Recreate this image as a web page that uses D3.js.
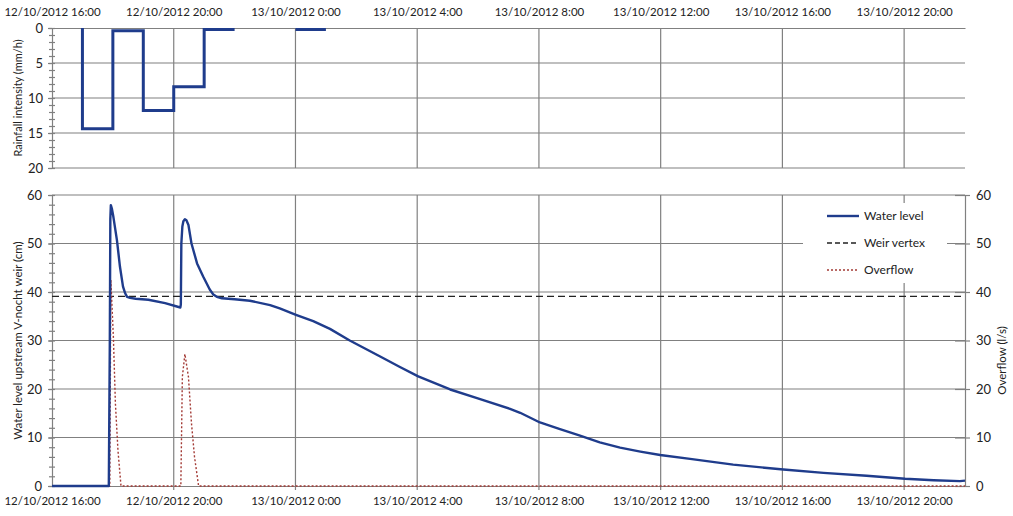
<!DOCTYPE html>
<html>
<head>
<meta charset="utf-8">
<script src="https://cdn.jsdelivr.net/npm/d3@7"></script>
<style>
	body { margin: 0; background: #fff; }
	text { font-family: Lato, "Open Sans", sans-serif; fill: #222; }
</style>
</head>
<body>
<svg id="canvas"></svg>
<script>
var width = 1013,
	height = 516;

// hourly rainfall, value for the hour ending at the time (null = no record)
var rainTime = ["12/10/2012 17:00", "12/10/2012 18:00", "12/10/2012 19:00", "12/10/2012 20:00",
	"12/10/2012 21:00", "12/10/2012 22:00", "12/10/2012 23:00", "13/10/2012 00:00", "13/10/2012 01:00"];
var rainValue = [0, 14.4, 0.4, 11.8, 8.4, 0.2, null, 0.2, 0.2];

// water level upstream of the weir (cm)
var levelTime = ["12/10/2012 16:00", "12/10/2012 17:52", "12/10/2012 17:54", "12/10/2012 17:55",
	"12/10/2012 17:56", "12/10/2012 17:58", "12/10/2012 18:01", "12/10/2012 18:08", "12/10/2012 18:14",
	"12/10/2012 18:20", "12/10/2012 18:24", "12/10/2012 18:28", "12/10/2012 18:34", "12/10/2012 18:45",
	"12/10/2012 19:10", "12/10/2012 19:43", "12/10/2012 20:13", "12/10/2012 20:14", "12/10/2012 20:15",
	"12/10/2012 20:17", "12/10/2012 20:19", "12/10/2012 20:22", "12/10/2012 20:25", "12/10/2012 20:29",
	"12/10/2012 20:35", "12/10/2012 20:46", "12/10/2012 20:58", "12/10/2012 21:11", "12/10/2012 21:18",
	"12/10/2012 21:25", "12/10/2012 21:35", "12/10/2012 22:00", "12/10/2012 22:30", "12/10/2012 23:10",
	"12/10/2012 23:29", "13/10/2012 00:01", "13/10/2012 00:35", "13/10/2012 01:08", "13/10/2012 01:47",
	"13/10/2012 02:47", "13/10/2012 03:25", "13/10/2012 04:02", "13/10/2012 05:05", "13/10/2012 05:58",
	"13/10/2012 07:03", "13/10/2012 07:23", "13/10/2012 08:02", "13/10/2012 08:40", "13/10/2012 09:21",
	"13/10/2012 10:00", "13/10/2012 10:40", "13/10/2012 11:20", "13/10/2012 11:59", "13/10/2012 12:58",
	"13/10/2012 14:23", "13/10/2012 16:02", "13/10/2012 17:21", "13/10/2012 18:46", "13/10/2012 20:02",
	"13/10/2012 20:58", "13/10/2012 21:50", "13/10/2012 22:00"];
var levelValue = [0, 0, 30, 55,
	57.9, 57.2, 55.5, 50.7, 45.2,
	41.1, 39.8, 39.0, 38.8, 38.6,
	38.4, 37.7, 36.8, 37.4, 50.0,
	53.5, 54.6, 55.0, 54.8, 53.8,
	50.0, 45.9, 43.2, 40.5, 39.5,
	39.0, 38.7, 38.5, 38.2, 37.3,
	36.6, 35.3, 34.0, 32.4, 30.0,
	26.7, 24.6, 22.6, 19.9, 18.1,
	15.9, 15.1, 13.1, 11.8, 10.4,
	9.0, 7.9, 7.1, 6.4, 5.6,
	4.4, 3.4, 2.7, 2.1, 1.5,
	1.2, 1.0, 1.1];

// overflow over the weir (l/s)
var flowTime = ["12/10/2012 16:00", "12/10/2012 17:54", "12/10/2012 17:56", "12/10/2012 18:01",
	"12/10/2012 18:05", "12/10/2012 18:10", "12/10/2012 18:16", "12/10/2012 20:14", "12/10/2012 20:17",
	"12/10/2012 20:22", "12/10/2012 20:29", "12/10/2012 20:35", "12/10/2012 20:41", "12/10/2012 20:49",
	"13/10/2012 22:00"];
var flowValue = [0, 0, 42.5, 30.8,
	17.0, 7.4, 0, 0, 22.5,
	27.2, 22.5, 12.9, 6.0, 0,
	0];

var weirVertex = 39.1;

var xTicks = ["12/10/2012 16:00", "12/10/2012 20:00", "13/10/2012 00:00", "13/10/2012 04:00",
	"13/10/2012 08:00", "13/10/2012 12:00", "13/10/2012 16:00", "13/10/2012 20:00"];
var rainTicks = [0, 5, 10, 15, 20];
var levelTicks = [0, 10, 20, 30, 40, 50, 60];

var parse = d3.timeParse("%d/%m/%Y %H:%M");
var fmt = d3.timeFormat("%d/%m/%Y %-H:%M");

var svg = d3.select("#canvas")
	.attr("width", width)
	.attr("height", height);

var left = 52, right = 965;
var rainTop = 28, rainBottom = 168;
var levelTop = 195, levelBottom = 486;
var gridColor = "#808080";
var blue = "#1f3c8c";

var x = d3.scaleTime()
	.domain([parse("12/10/2012 16:00"), parse("13/10/2012 22:00")])
	.range([left, right]);

var yRain = d3.scaleLinear()
	.domain([0, 20])
	.range([rainTop, rainBottom]);

var yLevel = d3.scaleLinear()
	.domain([0, 60])
	.range([levelBottom, levelTop]);

var yFlow = d3.scaleLinear()
	.domain([0, 60])
	.range([levelBottom, levelTop]);

var tickDates = xTicks.map(parse);

function styleAxis(g) {
	g.selectAll("path, line").attr("stroke", gridColor).attr("stroke-width", 1.2);
	g.select(".domain").attr("stroke-width", 1.2);
}

// ---------- rainfall panel ----------
var rainPanel = svg.append("g");

rainPanel.selectAll(".hgrid")
	.data(rainTicks.slice(1, -1))
	.enter()
	.append("line")
	.attr("x1", left).attr("x2", right)
	.attr("y1", function(d){ return yRain(d); })
	.attr("y2", function(d){ return yRain(d); })
	.attr("stroke", gridColor).attr("stroke-width", 1.2);

rainPanel.append("line")
	.attr("x1", left).attr("x2", right)
	.attr("y1", rainBottom).attr("y2", rainBottom)
	.attr("stroke", gridColor).attr("stroke-width", 1.2);

rainPanel.selectAll(".vgrid")
	.data(tickDates.slice(1))
	.enter()
	.append("line")
	.attr("x1", function(d){ return x(d); })
	.attr("x2", function(d){ return x(d); })
	.attr("y1", rainTop).attr("y2", rainBottom)
	.attr("stroke", gridColor).attr("stroke-width", 1.2);

var topAxis = rainPanel.append("g")
	.attr("transform", "translate(0," + rainTop + ")")
	.call(d3.axisTop(x).tickValues(tickDates).tickFormat(fmt).tickSize(0).tickPadding(12));
topAxis.selectAll("text").style("font-size", "11.5px");
styleAxis(topAxis);

var rainMinor = rainPanel.append("g")
	.attr("transform", "translate(" + (left + 3) + ",0)")
	.call(d3.axisLeft(yRain).ticks(20).tickFormat("").tickSize(6).tickSizeOuter(0));
styleAxis(rainMinor);
rainMinor.select(".domain").remove();

var rainAxis = rainPanel.append("g")
	.attr("transform", "translate(" + left + ",0)")
	.call(d3.axisLeft(yRain).tickValues(rainTicks).tickSize(4).tickPadding(5).tickSizeOuter(0));
rainAxis.selectAll("text").style("font-size", "13px");
styleAxis(rainAxis);

rainPanel.append("text")
	.attr("transform", "translate(22," + ((rainTop + rainBottom) / 2) + ") rotate(-90)")
	.attr("text-anchor", "middle")
	.style("font-size", "11px")
	.text("Rainfall intensity (mm/h)");

var rainData = rainTime.map(function(t, i){ return {t: parse(t), v: rainValue[i]}; });
rainPanel.append("path")
	.datum(rainData)
	.attr("fill", "none")
	.attr("stroke", blue)
	.attr("stroke-width", 3)
	.attr("d", d3.line()
		.defined(function(d){ return d.v !== null; })
		.curve(d3.curveStepBefore)
		.x(function(d){ return x(d.t); })
		.y(function(d){ return yRain(d.v); }));

// ---------- water level panel ----------
var levelPanel = svg.append("g");

levelPanel.selectAll(".hgrid")
	.data(levelTicks.slice(1))
	.enter()
	.append("line")
	.attr("x1", left).attr("x2", right)
	.attr("y1", function(d){ return yLevel(d); })
	.attr("y2", function(d){ return yLevel(d); })
	.attr("stroke", gridColor).attr("stroke-width", 1.2);

levelPanel.selectAll(".vgrid")
	.data(tickDates.slice(1))
	.enter()
	.append("line")
	.attr("x1", function(d){ return x(d); })
	.attr("x2", function(d){ return x(d); })
	.attr("y1", levelTop).attr("y2", levelBottom + 4)
	.attr("stroke", gridColor).attr("stroke-width", 1.2);

var bottomAxis = levelPanel.append("g")
	.attr("transform", "translate(0," + levelBottom + ")")
	.call(d3.axisBottom(x).tickValues(tickDates).tickFormat(fmt).tickSize(0).tickPadding(11));
bottomAxis.selectAll("text").style("font-size", "11.5px");
styleAxis(bottomAxis);

var levelMinor = levelPanel.append("g")
	.attr("transform", "translate(" + (left + 3) + ",0)")
	.call(d3.axisLeft(yLevel).ticks(30).tickFormat("").tickSize(6).tickSizeOuter(0));
styleAxis(levelMinor);
levelMinor.select(".domain").remove();

var levelAxis = levelPanel.append("g")
	.attr("transform", "translate(" + left + ",0)")
	.call(d3.axisLeft(yLevel).tickValues(levelTicks).tickSize(4).tickPadding(6).tickSizeOuter(0));
levelAxis.selectAll("text").style("font-size", "13px");
styleAxis(levelAxis);

var flowAxis = levelPanel.append("g")
	.attr("transform", "translate(" + right + ",0)")
	.call(d3.axisRight(yFlow).tickValues(levelTicks).tickSizeInner(5).tickSizeOuter(0).tickPadding(6));
flowAxis.selectAll("text").style("font-size", "13px");
styleAxis(flowAxis);
flowAxis.selectAll(".tick line").attr("x1", -10);

levelPanel.append("text")
	.attr("transform", "translate(22," + ((levelTop + levelBottom) / 2) + ") rotate(-90)")
	.attr("text-anchor", "middle")
	.style("font-size", "11.5px")
	.text("Water level upstream V-nocht weir (cm)");

levelPanel.append("text")
	.attr("transform", "translate(1006," + ((levelTop + levelBottom) / 2 + 20) + ") rotate(-90)")
	.attr("text-anchor", "middle")
	.style("font-size", "11.5px")
	.text("Overflow (l/s)");

// weir vertex
levelPanel.append("line")
	.attr("x1", left).attr("x2", right)
	.attr("y1", yLevel(weirVertex)).attr("y2", yLevel(weirVertex))
	.attr("stroke", "#222")
	.attr("stroke-width", 1.3)
	.attr("stroke-dasharray", "7,4");

var flowData = flowTime.map(function(t, i){ return {t: parse(t), v: flowValue[i]}; });
levelPanel.append("path")
	.datum(flowData)
	.attr("fill", "none")
	.attr("stroke", "#a33a35")
	.attr("stroke-width", 1.4)
	.attr("stroke-dasharray", "2,2")
	.attr("d", d3.line()
		.x(function(d){ return x(d.t); })
		.y(function(d){ return yFlow(d.v); }));

var levelData = levelTime.map(function(t, i){ return {t: parse(t), v: levelValue[i]}; });
levelPanel.append("path")
	.datum(levelData)
	.attr("fill", "none")
	.attr("stroke", blue)
	.attr("stroke-width", 2.4)
	.attr("stroke-linejoin", "round")
	.attr("d", d3.line()
		.x(function(d){ return x(d.t); })
		.y(function(d){ return yLevel(d.v); }));

// legend
var legend = levelPanel.append("g");
legend.append("rect")
	.attr("x", 803).attr("y", 203)
	.attr("width", 144).attr("height", 80)
	.attr("fill", "#fff");

var legendItems = [
	{name: "Water level", color: blue, width: 2.4, dash: null},
	{name: "Weir vertex", color: "#222", width: 1.3, dash: "5,3"},
	{name: "Overflow", color: "#a33a35", width: 1.4, dash: "2,2"}
];

legendItems.forEach(function(d, i){
	var yy = 216 + i * 27;
	legend.append("line")
		.attr("x1", 827).attr("x2", 859)
		.attr("y1", yy).attr("y2", yy)
		.attr("stroke", d.color)
		.attr("stroke-width", d.width)
		.attr("stroke-dasharray", d.dash);
	legend.append("text")
		.attr("x", 864).attr("y", yy)
		.attr("dy", "0.35em")
		.style("font-size", "12px")
		.text(d.name);
});
</script>
</body>
</html>
